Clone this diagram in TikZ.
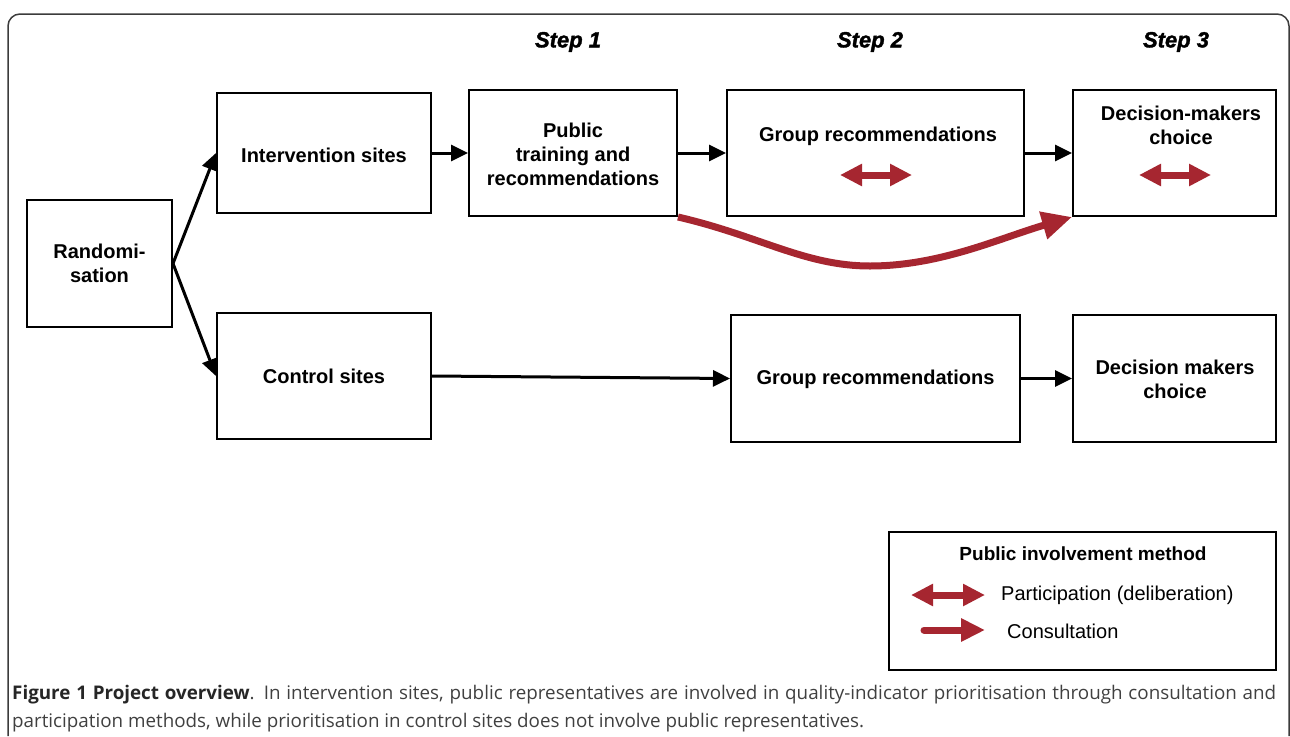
\documentclass[tikz,border=0pt]{standalone}
\usepackage{fontspec}
\setmainfont{Liberation Sans}
\newfontfamily\capfont{Open Sans}
\newfontfamily\stepfont{Liberation Sans}[BoldItalicFeatures={FakeBold=1.6}]
\usetikzlibrary{arrows.meta}
\definecolor{pired}{RGB}{166,38,48}
\definecolor{capgrey}{RGB}{64,64,64}
\definecolor{framegrey}{RGB}{60,60,60}
\begin{document}
\begin{tikzpicture}[x=1pt,y=-1pt,
  box/.style={draw=black, line width=2pt, inner sep=0pt, fill=white},
  lbl/.style={font=\fontsize{20}{24}\selectfont\bfseries, align=center, inner sep=0pt},
  steplbl/.style={font=\stepfont\fontsize{22}{26}\selectfont\bfseries\itshape, inner sep=0pt},
  legtxt/.style={font=\fontsize{20}{24}\selectfont, anchor=west, inner sep=0pt},
  flow/.style={line width=3pt, -{Triangle[length=17pt,width=16pt]}},
  partic/.style={pired, line width=7pt, {Triangle[length=22pt,width=21pt]}-{Triangle[length=22pt,width=21pt]}},
  consult/.style={pired, line width=7pt, -{Triangle[length=30pt,width=27pt]}},
  consultleg/.style={pired, line width=7pt, line cap=round, -{Triangle[length=24pt,width=22pt]}},
  captxt/.style={font=\capfont\fontsize{18.8}{22}\selectfont, text=capgrey, anchor=west, inner sep=0pt},
]
\useasboundingbox (0,0) rectangle (1290,736);
% outer frame
\draw[framegrey, line width=1.5pt, rounded corners=12pt] (8,736) -- (8,14) -- (1289,14) -- (1289,736);

% step labels
\node[steplbl] (s1) at (568,42) {Step 1};
\node[steplbl] (s2) at (870,42) {Step 2};
\node[steplbl] (s3) at (1176,42) {Step 3};

% boxes
\node[box, minimum width=145pt, minimum height=127pt] (rand) at (99.5,263.5) {};
\node[box, minimum width=214pt, minimum height=120pt] (int) at (324,153) {};
\node[box, minimum width=208pt, minimum height=126pt] (pub) at (573,153) {};
\node[box, minimum width=297pt, minimum height=126pt] (grp) at (875.5,153) {};
\node[box, minimum width=203pt, minimum height=126pt] (dm) at (1174.5,153) {};
\node[box, minimum width=214pt, minimum height=126pt] (ctrl) at (324,376) {};
\node[box, minimum width=289pt, minimum height=127pt] (grpb) at (875.5,378.5) {};
\node[box, minimum width=203pt, minimum height=127pt] (dmb) at (1174.5,378.5) {};

% box texts
\node[lbl] (trand) at (99.5,263.5) {Randomi-\\sation};
\node[lbl] (tint) at (324,155) {Intervention sites};
\node[lbl] (tpub) at (573,154) {Public\\training and\\recommendations};
\node[lbl] (tgrp) at (878,136) {Group recommendations};
\node[lbl] (tdm) at (1181,125) {Decision-makers\\choice};
\node[lbl] (tctrl) at (324,376) {Control sites};
\node[lbl] (tgrpb) at (875.5,379) {Group recommendations};
\node[lbl] (tdmb) at (1175,379) {Decision makers\\choice};

% flow arrows
\draw[flow] (rand.east) -- (int.west);
\draw[flow] (rand.east) -- (ctrl.west);
\draw[flow] (int.east) -- (pub.west);
\draw[flow] (pub.east) -- (grp.west);
\draw[flow] (grp.east) -- (dm.west);
\draw[flow] (ctrl.east) -- (grpb.west);
\draw[flow] (grpb.east) -- (dmb.west);

% participation symbols
\coordinate (pa1) at (840,175);
\coordinate (pa2) at (912,175);
\draw[partic] (pa1) -- (pa2);
\coordinate (pb1) at (1139,175);
\coordinate (pb2) at (1211,175);
\draw[partic] (pb1) -- (pb2);

% consultation curve
\coordinate (cbot) at (870,266);
\draw[consult] (pub.south east) .. controls (760,236) and (805,266) .. (cbot)
   .. controls (940,266) and (1000,238) .. (dm.south west);

% legend
\node[box, minimum width=387pt, minimum height=138pt] (leg) at (1082.5,601) {};
\node[font=\fontsize{19}{23}\selectfont\bfseries, inner sep=0pt] (legt) at (1083,554) {Public involvement method};
\coordinate (la1) at (911,595);
\coordinate (la2) at (985,595);
\draw[partic] (la1) -- (la2);
\node[legtxt] (lpart) at (1001,595) {Participation (deliberation)};
\coordinate (lc1) at (924,630);
\coordinate (lc2) at (985,630);
\draw[consultleg] (lc1) -- (lc2);
\node[legtxt] (lcons) at (1007,631) {Consultation};

% caption
\node[captxt] (cap1) at (12,695) {\makebox[1264pt][s]{\textbf{\color{black!85}Figure 1 Project overview}. In intervention sites, public representatives are involved in quality-indicator prioritisation through consultation and}};
\node[captxt] (cap2) at (12,723) {participation methods, while prioritisation in control sites does not involve public representatives.};
\end{tikzpicture}
\end{document}
